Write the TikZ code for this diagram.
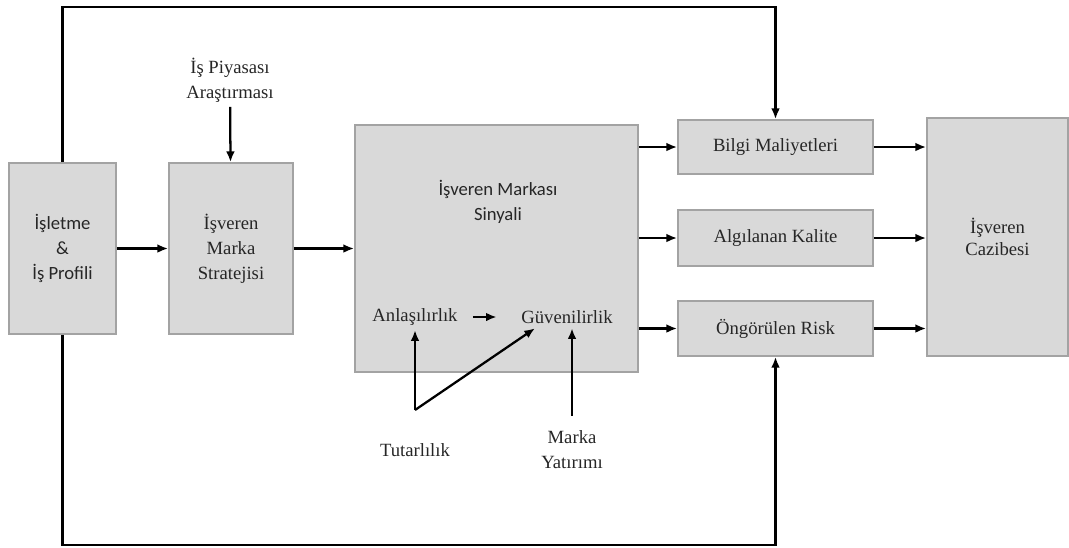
\documentclass[tikz,border=0pt]{standalone}
\usepackage{fontspec}
\setmainfont{Liberation Serif}
\newfontfamily\calibri{Carlito}
\usetikzlibrary{arrows.meta}

\definecolor{boxfill}{HTML}{D9D9D9}
\definecolor{boxborder}{HTML}{A3A3A3}
\definecolor{textgray}{HTML}{262626}

\tikzset{
  block/.style={draw=boxborder, fill=boxfill, line width=1.3pt, align=center, inner sep=2pt},
  plain/.style={align=center},
  conn/.style={-{Latex[length=8pt,width=6.5pt]}, line width=1.7pt}
}

\begin{document}
\begin{tikzpicture}[x=0.75pt, y=-0.75pt, font=\fontsize{14}{18.75}\selectfont, text=textgray]
        \useasboundingbox (0,0) rectangle (1069,547);

        % Left column
        \node[block, minimum width=80.25pt, minimum height=128.25pt, font=\calibri\fontsize{14}{18.75}\selectfont] (profil) at (62.5,248.5) {İşletme\\\&\\İş Profili};
        \node[block, minimum width=93pt, minimum height=128.25pt] (strateji) at (231,248.5) {İşveren\\Marka\\Stratejisi};
        \node[plain] (piyasa) at (230,80) {İş Piyasası\\Araştırması};

        % Signal box
        \node[block, minimum width=212.25pt, minimum height=185.25pt] (sinyal) at (496.5,248.5) {};
        \node[plain, font=\calibri\fontsize{14}{18.75}\selectfont] (baslik) at (498,202) {İşveren Markası\\Sinyali};
        \node (anlasilir) at (415,317) {Anlaşılırlık};
        \node (guvenilir) at (567,317) {Güvenilirlik};
        \node (tutarlilik) at (415,450) {Tutarlılık};
        \node[plain] (yatirim) at (572,450) {Marka\\Yatırımı};
        \coordinate (kesisim) at (415,410);

        % Outcomes
        \node[block, minimum width=146.25pt, minimum height=40.5pt] (bilgi) at (775.5,147) {Bilgi Maliyetleri};
        \node[block, minimum width=146.25pt, minimum height=42pt] (kalite) at (775.5,238) {Algılanan Kalite};
        \node[block, minimum width=146.25pt, minimum height=41.25pt] (risk) at (775.5,328.5) {Öngörülen Risk};
        \node[block, minimum width=105.75pt, minimum height=178.5pt, font=\fontsize{14}{16}\selectfont] (cazibe) at (997.5,237) {İşveren\\Cazibesi};

        % Connections
        \draw[conn] (profil) -- (strateji);
        \draw[conn] (piyasa) -- (strateji);
        \draw[conn] (strateji) -- (sinyal);
        \draw[conn] (sinyal.east |- bilgi) -- (bilgi);
        \draw[conn] (sinyal.east |- kalite) -- (kalite);
        \draw[conn] (sinyal.east |- risk) -- (risk);
        \draw[conn] (bilgi) -- (bilgi -| cazibe.west);
        \draw[conn] (kalite) -- (kalite -| cazibe.west);
        \draw[conn] (risk) -- (risk -| cazibe.west);

        % Inside the signal
        \draw[conn, shorten <=8pt, shorten >=15pt] (anlasilir.east) -- (guvenilir.west);
        \draw[conn] (kesisim) -- (anlasilir.south);
        \draw[conn] (kesisim) -- ([xshift=-24pt]guvenilir.south);
        \draw[conn] ([yshift=8pt]yatirim.north) -- (yatirim.north |- guvenilir.south);

        % Feedback loops
        \coordinate (ust) at (400,7);
        \coordinate (alt) at (400,545);
        \draw[conn] (profil.north) |- (ust) -| (bilgi.north);
        \draw[conn] (profil.south) |- (alt) -| (risk.south);
    \end{tikzpicture}
\end{document}
